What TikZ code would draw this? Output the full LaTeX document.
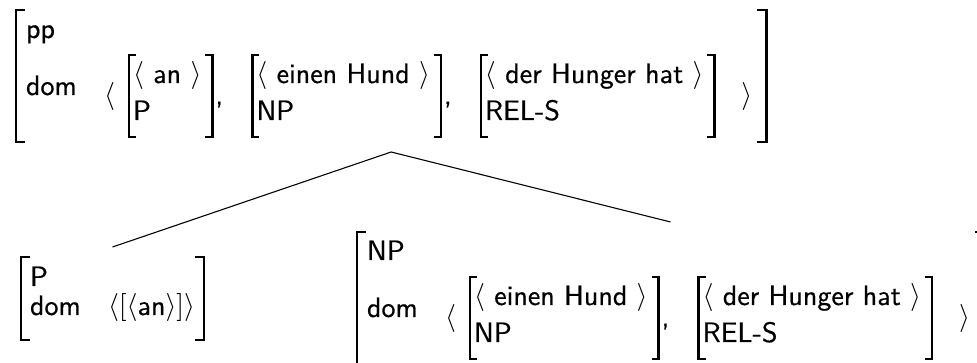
\documentclass[tikz,border=0pt]{standalone}
\usepackage{fontspec}
\newfontfamily\avmsf{lmsans10-regular.otf}[FakeBold=0.5]
\usetikzlibrary{calc,fit}
\newlength\pxu
\setlength\pxu{0.357pt}
\tikzset{
  txt/.style={inner sep=0pt, outer sep=0pt, anchor=base west, font=\avmsf},
  avmbox/.style={draw=none, inner sep=0pt, outer sep=0pt, rectangle},
  brkline/.style={line width=2.8\pxu, line cap=butt, line join=miter},
  treeedge/.style={line width=1.1\pxu, line join=miter}
}
\newcommand\brk[2]{%
  \draw[brkline] ($(#1.north west)+(#2,0)$) -- (#1.north west) -- (#1.south west) -- ($(#1.south west)+(#2,0)$);
  \draw[brkline] ($(#1.north east)+(-#2,0)$) -- (#1.north east) -- (#1.south east) -- ($(#1.south east)+(-#2,0)$);
}
% inner AVM: #1 name, #2 top-left coordinate, #3 first row, #4 second row
\newcommand\inavm[4]{%
  \coordinate (#1tl) at #2;
  \node[txt] (#1a) at ($(#1tl)+(4,28)$) {#3};
  \node[txt] (#1b) at ($(#1tl)+(4,65)$) {#4};
  \coordinate (#1br) at ($(#1a.east |- #1tl)+(11,82)$);
  \node[avmbox, fit=(#1tl)(#1br)] (#1) {};
  \brk{#1}{7}
}
\begin{document}
\begin{tikzpicture}[x=\pxu, y=-\pxu]
\useasboundingbox (0,0) rectangle (977,363);
\clip (0,0) rectangle (977,363);

% ---------- top AVM ----------
\coordinate (Tax) at (0,104);
\coordinate (Tbot) at (0,142);
\node[txt] (Tpp) at (26,38) {pp};
\node[txt] (Tdom) at (26,95) {dom};
\inavm{I1}{(129,55)}{$\langle$ an $\rangle$}{P}
\node[txt] (I1c) at ($(I1.east |- Tax)+(3,0)$) {,};
\inavm{I2}{($(I1.north east)+(40,0)$)}{$\langle$ einen Hund $\rangle$}{NP}
\node[txt] (I2c) at ($(I2.east |- Tax)+(3,0)$) {,};
\inavm{I3}{($(I2.north east)+(40,0)$)}{$\langle$ der Hunger hat $\rangle$}{REL-S}
\node[txt, anchor=base east] (Topen) at ($(I1tl |- Tax)+(-14,0)$) {$\langle$};
\node[txt] (Tclose) at ($(I3.east |- Tax)+(27,0)$) {$\rangle$};
\coordinate (Ttl) at (16,10);
\coordinate (Tbr) at ($(Tclose.east |- Tbot)+(14,0)$);
\node[avmbox, fit=(Ttl)(Tbr)] (T) {};
\brk{T}{9}

% ---------- bottom-left AVM ----------
\coordinate (Lbot) at (0,340);
\node[txt] (Lp) at (30,286) {P};
\node[txt] (Ldom) at (30,315) {dom};
\node[txt] (Llist) at (108,315) {$\langle[\langle$an$\rangle]\rangle$};
\coordinate (Ltl) at (21,257);
\coordinate (Lbr) at ($(Llist.east |- Lbot)+(9,0)$);
\node[avmbox, fit=(Ltl)(Lbr)] (BL) {};
\brk{BL}{9}

% ---------- bottom-right AVM (cut off by the frame) ----------
\coordinate (Bax) at (0,326);
\coordinate (Bbot) at (0,364);
\node[txt] (Bnp) at (367,260) {NP};
\node[txt] (Bdom) at (367,317) {dom};
\inavm{J2}{(470,277)}{$\langle$ einen Hund $\rangle$}{NP}
\node[txt] (J2c) at ($(J2.east |- Bax)+(3,0)$) {,};
\inavm{J3}{($(J2.north east)+(40,0)$)}{$\langle$ der Hunger hat $\rangle$}{REL-S}
\node[txt, anchor=base east] (Bopen) at ($(J2tl |- Bax)+(-14,0)$) {$\langle$};
\node[txt] (Bclose) at ($(J3.east |- Bax)+(27,0)$) {$\rangle$};
\coordinate (Btl) at (357,232);
\coordinate (Bbr) at ($(Bclose.east |- Bbot)+(14,0)$);
\node[avmbox, fit=(Btl)(Bbr)] (BR) {};
\brk{BR}{9}

% ---------- tree edges ----------
\draw[treeedge] ($(BL.north)+(0,-10)$) -- ($(T.south)+(0,10)$) -- ($(BR.north)+(0,-10)$);
\end{tikzpicture}
\end{document}
